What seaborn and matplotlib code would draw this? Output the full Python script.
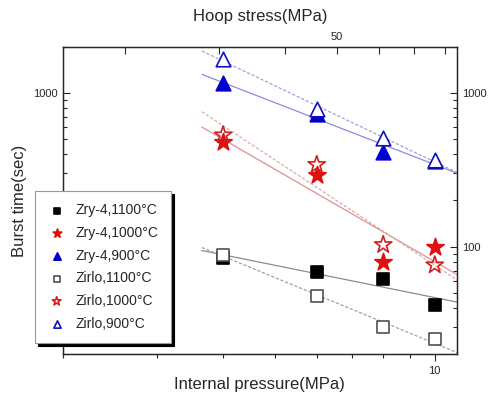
import numpy as np
import matplotlib
matplotlib.use("Agg")
import matplotlib.pyplot as plt
import matplotlib.ticker as mticker
import seaborn as sns

# burst time (sec) vs internal pressure (MPa)
pressure = [4, 6, 8, 10]
zry4_1100 = [85, 68, 62, 42]
zry4_1000 = [477, 294, 80, 99]
zry4_900 = [1155, 733, 411, 362]
zirlo_1100 = [89, 48, 30, 25]
zirlo_1000 = [533, 342, 103, 76]
zirlo_900 = [1664, 787, 514, 366]
labels = ["Zry-4,1100°C", "Zry-4,1000°C", "Zry-4,900°C",
          "Zirlo,1100°C", "Zirlo,1000°C", "Zirlo,900°C"]
hoop_per_mpa = 7.65  # hoop stress / internal pressure

sns.set_style("ticks")
plt.rcParams['font.family'] = ['Liberation Sans', 'DejaVu Sans']

fig = plt.figure(figsize=(4.88, 3.97), dpi=100)
ax = fig.add_axes([0.129, 0.108, 0.807, 0.774])

# marker, face, edge, size, fit line colour, fit line style
styles = [
    ('s', 'black', 'black', 70, '#8c8c8c', '-'),
    ('*', '#e01010', '#e01010', 170, '#e09090', '-'),
    ('^', '#0000d0', '#0000d0', 110, '#8c8ce0', '-'),
    ('s', 'white', '#505050', 70, '#a0a0a0', (0, (2.5, 1.5))),
    ('*', 'none', '#d02020', 170, '#e0a8a8', (0, (2.5, 1.5))),
    ('^', 'white', '#1010c0', 110, '#a0a0d8', (0, (2.5, 1.5))),
]
series = [zry4_1100, zry4_1000, zry4_900, zirlo_1100, zirlo_1000, zirlo_900]

xs = np.geomspace(3.65, 11.5, 30)
for vals, (mk, fc, ec, s, lc, ls) in zip(series, styles):
    coef = np.polyfit(np.log10(pressure), np.log10(vals), 1)
    ys = 10 ** np.polyval(coef, np.log10(xs))
    sns.lineplot(x=xs, y=ys, color=lc, linestyle=ls, linewidth=0.9, ax=ax,
                 legend=False, zorder=1)

for vals, lab, (mk, fc, ec, s, lc, ls) in zip(series, labels, styles):
    sns.scatterplot(x=pressure, y=vals, marker=mk, s=s, color=ec,
                    facecolor=fc, edgecolor=ec, linewidth=1.2, label=lab,
                    ax=ax, legend=False, zorder=3)

ax.set_xscale('log')
ax.set_yscale('log')
ax.set_xlim(2, 11)
ax.set_ylim(20, 2000)

plain = mticker.FuncFormatter(lambda v, p: f"{v:g}")
ax.xaxis.set_major_formatter(plain)
ax.yaxis.set_major_formatter(plain)
ax.xaxis.set_minor_formatter(mticker.NullFormatter())
ax.yaxis.set_minor_formatter(mticker.NullFormatter())
ax.tick_params(which='both', right=True, labelright=True, labelsize=8,
               direction='in', width=0.8)
ax.tick_params(which='major', length=5)
ax.tick_params(which='minor', length=3)
ax.tick_params(axis='x', which='both', direction='out')
for sp in ax.spines.values():
    sp.set_linewidth(1.0)
    sp.set_color('#222222')

ax.set_xlabel('Internal pressure(MPa)', fontsize=12, labelpad=1)
ax.set_ylabel('Burst time(sec)', fontsize=12, labelpad=5)

# hoop stress on top
ax2 = ax.twiny()
ax2.set_xscale('log')
ax2.set_xlim(2 * hoop_per_mpa, 11 * hoop_per_mpa)
ax2.set_xticks([50])
ax2.set_xticklabels(['50'])
ax2.set_xticks([20, 30, 40, 60, 70, 80], minor=True)
ax2.xaxis.set_minor_formatter(mticker.NullFormatter())
ax2.tick_params(which='both', direction='in', labelsize=8, width=0.8)
ax2.tick_params(which='major', length=5)
ax2.tick_params(which='minor', length=5)
ax2.set_xlabel('Hoop stress(MPa)', fontsize=12, labelpad=8)

handles, labs = ax.get_legend_handles_labels()
leg = fig.legend(handles, labs, loc='lower left',
                 bbox_to_anchor=(0.072, 0.136), borderaxespad=0,
                 fontsize=10, markerscale=0.5, labelspacing=0.62,
                 handletextpad=0.7, borderpad=0.9, handlelength=1.3,
                 fancybox=False, frameon=True, edgecolor='#999999',
                 shadow={'color': 'black', 'alpha': 1.0})
leg.get_frame().set_linewidth(0.8)

fig.savefig('out.png', dpi=100)
